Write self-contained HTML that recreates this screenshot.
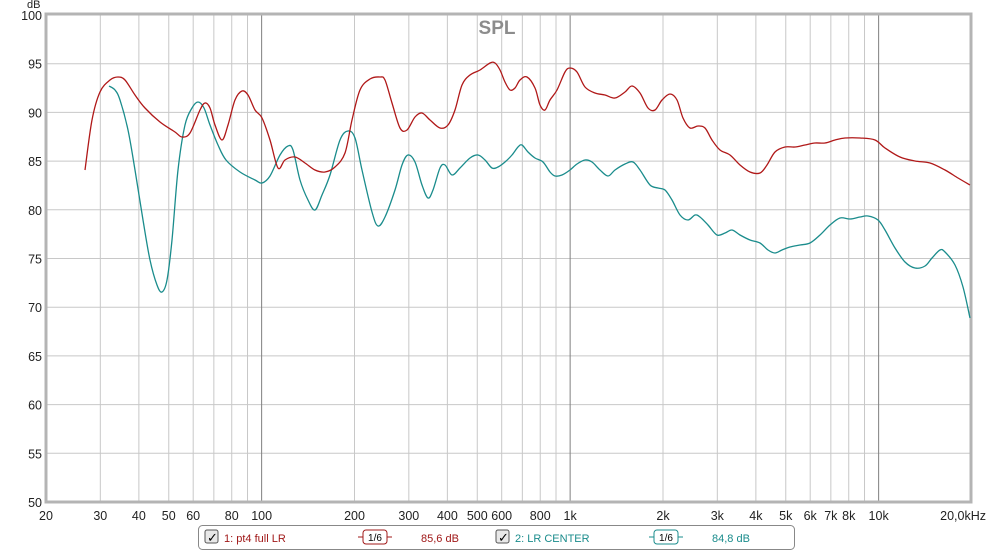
<!DOCTYPE html>
<html><head><meta charset="utf-8"><style>
body{margin:0;background:#fff;width:993px;height:552px;overflow:hidden;font-family:"Liberation Sans",sans-serif}
svg{display:block}
</style></head><body>
<svg id="s" width="993" height="552" xmlns="http://www.w3.org/2000/svg" font-family="Liberation Sans, sans-serif"></svg>
<script>
const s=document.getElementById('s');let h='';
const X=f=>46+(Math.log10(f)-Math.log10(20))*308.5;
const Y=d=>15+(100-d)*9.74;
h+='<rect x="0" y="0" width="993" height="552" fill="#fff"/>';
for(let d=50;d<=100;d+=5){h+=`<line x1="46" x2="971" y1="${Y(d)}" y2="${Y(d)}" stroke="#c8c8c8"/>`;
h+=`<text x="42" y="${Y(d)+5}" font-size="12.5" text-anchor="end" fill="#222">${d}</text>`;}
const fr=[];for(const dec of [10,100,1000,10000])for(let k=1;k<=9;k++){const f=k*dec;if(f>20&&f<20000)fr.push(f);}
for(const f of fr){const dk=(f==100||f==1000||f==10000);h+=`<line x1="${X(f)}" x2="${X(f)}" y1="15" y2="502" stroke="${dk?'#808080':'#c8c8c8'}"/>`;}
const lab=[[20,'20'],[30,'30'],[40,'40'],[50,'50'],[60,'60'],[80,'80'],[100,'100'],[200,'200'],[300,'300'],[400,'400'],[500,'500'],[600,'600'],[800,'800'],[1000,'1k'],[2000,'2k'],[3000,'3k'],[4000,'4k'],[5000,'5k'],[6000,'6k'],[7000,'7k'],[8000,'8k'],[10000,'10k']];
for(const [f,t] of lab)h+=`<text x="${X(f)}" y="520" font-size="12.5" text-anchor="middle" fill="#222">${t}</text>`;
h+=`<text x="986" y="520" font-size="12.5" text-anchor="end" fill="#222">20,0kHz</text>`;
h+=`<text x="27" y="8" font-size="11" fill="#222">dB</text>`;
h+=`<rect x="46" y="14" width="925" height="488" fill="none" stroke="#b4b4b4" stroke-width="3"/>`;
h+=`<text x="497" y="34" font-size="19" font-weight="bold" text-anchor="middle" fill="#8c8c8c">SPL</text>`;
const red=[[85,170],[92,120],[100,92],[110,80],[118,77],[125,80],[135,95],[145,108],[160,122],[175,132],[182,137],[190,133],[200,110],[205,103],[210,108],[215,125],[222,140],[228,125],[235,100],[242,91],[248,95],[255,110],[262,118],[270,140],[278,168],[285,160],[295,157],[305,163],[315,170],[325,172],[335,167],[345,153],[352,120],[360,90],[370,79],[380,77],[385,80],[392,103],[400,128],[407,130],[415,117],[422,113],[430,120],[440,128],[448,125],[455,110],[462,85],[470,75],[480,70],[490,63],[495,63],[500,70],[505,82],[510,90],[515,88],[520,80],[527,77],[535,88],[540,105],[545,110],[550,100],[557,90],[565,72],[570,68],[577,72],[585,87],[595,93],[605,95],[615,98],[625,92],[632,86],[640,93],[648,108],[655,110],[662,100],[670,94],[677,100],[683,118],[690,128],[698,126],[705,128],[712,140],[720,150],[730,155],[740,165],[750,172],[760,173],[767,165],[775,152],[785,147],[795,147],[805,145],[815,143],[825,143],[835,140],[845,138],[860,138],[875,140],[885,148],[900,157],[915,161],[930,163],[945,170],[958,178],[970,185]];
const teal=[[109,86],[115,90],[120,100],[128,130],[135,170],[143,220],[150,260],[157,285],[162,292],[167,280],[172,240],[178,170],[185,125],[192,108],[198,102],[204,108],[210,125],[218,145],[226,160],[240,172],[255,180],[262,183],[270,176],[280,155],[288,146],[293,150],[300,180],[308,200],[315,210],[322,195],[330,175],[340,140],[348,131],[355,138],[362,170],[372,212],[378,226],[385,217],[395,190],[402,165],[408,155],[415,162],[422,185],[428,198],[433,190],[440,168],[445,165],[452,175],[460,168],[470,158],[478,155],[485,160],[492,168],[498,167],[505,162],[512,155],[518,147],[522,145],[528,152],[535,158],[543,162],[550,172],[555,176],[562,175],[570,170],[577,164],[585,160],[592,162],[600,170],[608,176],[615,170],[625,164],[633,162],[640,170],[650,185],[658,188],[665,190],[672,200],[680,215],[688,220],[695,215],[700,217],[708,225],[717,235],[725,233],[732,230],[740,235],[750,240],[760,243],[768,250],[775,253],[782,250],[790,247],[800,245],[810,243],[820,235],[830,225],[840,218],[850,219],[860,217],[868,216],[878,220],[885,230],[895,248],[905,262],[915,268],[925,266],[932,258],[940,250],[945,252],[955,265],[963,287],[970,318]];
function path(p){let d=`M${p[0][0]},${p[0][1]}`;for(let i=0;i<p.length-1;i++){const p0=p[Math.max(0,i-1)],p1=p[i],p2=p[i+1],p3=p[Math.min(p.length-1,i+2)];
d+=` C${p1[0]+(p2[0]-p0[0])/6},${p1[1]+(p2[1]-p0[1])/6} ${p2[0]-(p3[0]-p1[0])/6},${p2[1]-(p3[1]-p1[1])/6} ${p2[0]},${p2[1]}`;}return d;}
h+=`<path d="${path(teal)}" fill="none" stroke="#1a8c8c" stroke-width="1.3"/>`;
h+=`<path d="${path(red)}" fill="none" stroke="#b01818" stroke-width="1.3"/>`;
h+=`<rect x="198.5" y="525.5" width="596" height="24" rx="4" fill="#fff" stroke="#888"/>`;
function cb(x){return `<rect x="${x}" y="530" width="13" height="13" rx="2" fill="#e8e8e8" stroke="#555"/><text x="${x+2}" y="542" font-size="13" fill="#000">✓</text>`;}
h+=cb(205)+`<text x="224" y="542" font-size="11" fill="#a01818">1: pt4 full LR</text>`;
h+=`<line x1="358" x2="392" y1="537" y2="537" stroke="#a01818"/><rect x="363" y="530" width="24" height="14" rx="3" fill="#fff" stroke="#a01818"/><text x="375" y="541" font-size="10" text-anchor="middle" fill="#000">1/6</text>`;
h+=`<text x="421" y="542" font-size="11" fill="#a01818">85,6 dB</text>`;
h+=cb(496)+`<text x="515" y="542" font-size="11" fill="#1a8c8c">2: LR CENTER</text>`;
h+=`<line x1="649" x2="683" y1="537" y2="537" stroke="#1a8c8c"/><rect x="654" y="530" width="24" height="14" rx="3" fill="#fff" stroke="#1a8c8c"/><text x="666" y="541" font-size="10" text-anchor="middle" fill="#000">1/6</text>`;
h+=`<text x="712" y="542" font-size="11" fill="#1a8c8c">84,8 dB</text>`;
s.innerHTML=h;
</script>
</body></html>
